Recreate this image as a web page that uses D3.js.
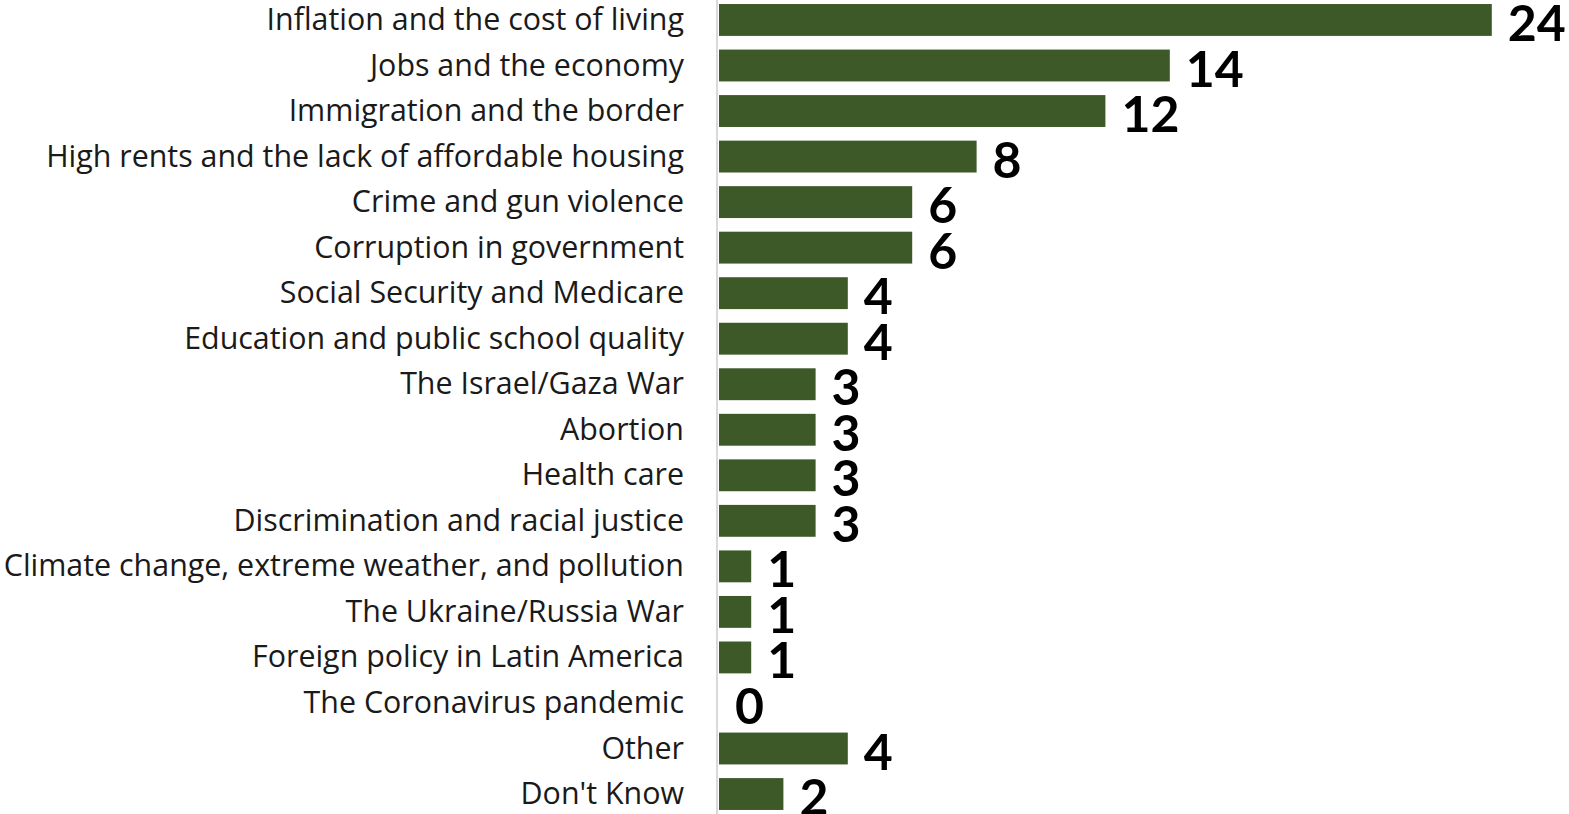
<!DOCTYPE html>
<html>
<head>
<meta charset="utf-8">
<script src="https://cdn.jsdelivr.net/npm/d3@7"></script>
<style>
  body { margin: 0; background: #fff; }
  svg { display: block; }
</style>
</head>
<body>
<svg id="chart" width="1569" height="814"></svg>
<script>
const categories = [
  'Inflation and the cost of living',
  'Jobs and the economy',
  'Immigration and the border',
  'High rents and the lack of affordable housing',
  'Crime and gun violence',
  'Corruption in government',
  'Social Security and Medicare',
  'Education and public school quality',
  'The Israel/Gaza War',
  'Abortion',
  'Health care',
  'Discrimination and racial justice',
  'Climate change, extreme weather, and pollution',
  'The Ukraine/Russia War',
  'Foreign policy in Latin America',
  'The Coronavirus pandemic',
  'Other',
  "Don't Know"
];
const values = [24, 14, 12, 8, 6, 6, 4, 4, 3, 3, 3, 3, 1, 1, 1, 0, 4, 2];

const svg = d3.select('#chart');
const x0 = 719;

// x scale: bar length per value
const x = d3.scaleLinear()
    .domain([0, 24])
    .range([x0, x0 + 24 * 32.2]);

// y scale: one band per category
const y = d3.scaleBand()
    .domain(categories)
    .range([-2.8, 816.8])
    .paddingInner(0.3)
    .paddingOuter(0.15);

// bars
svg.selectAll('rect.bar').data(values)
    .enter().append('rect')
    .attr('class', 'bar')
    .attr('x', x(0))
    .attr('y', (d, i) => y(categories[i]))
    .attr('width', d => x(d) - x(0))
    .attr('height', y.bandwidth())
    .attr('fill', '#3c5927');

// vertical axis line
svg.append('line')
    .attr('x1', 717).attr('x2', 717)
    .attr('y1', 0).attr('y2', 814)
    .attr('stroke', '#d9d9d9')
    .attr('stroke-width', 2);

// category labels
svg.selectAll('text.cat').data(categories)
    .enter().append('text')
    .attr('class', 'cat')
    .attr('x', 684)
    .attr('y', d => y(d) + y.bandwidth() / 2)
    .attr('dy', '0.33em')
    .attr('text-anchor', 'end')
    .attr('font-family', '"Open Sans", sans-serif')
    .attr('font-size', 30.4)
    .attr('fill', '#1a1a1a')
    .text(d => d);

// value labels
svg.selectAll('text.val').data(values)
    .enter().append('text')
    .attr('class', 'val')
    .attr('x', d => x(d) + 16)
    .attr('y', (d, i) => y(categories[i]) + y.bandwidth() / 2 + 2)
    .attr('dy', '0.38em')
    .attr('font-family', 'Lato, "Open Sans", sans-serif')
    .attr('font-weight', 'bold')
    .attr('font-size', 50)
    .attr('fill', '#000')
    .text(d => d);
</script>
</body>
</html>
